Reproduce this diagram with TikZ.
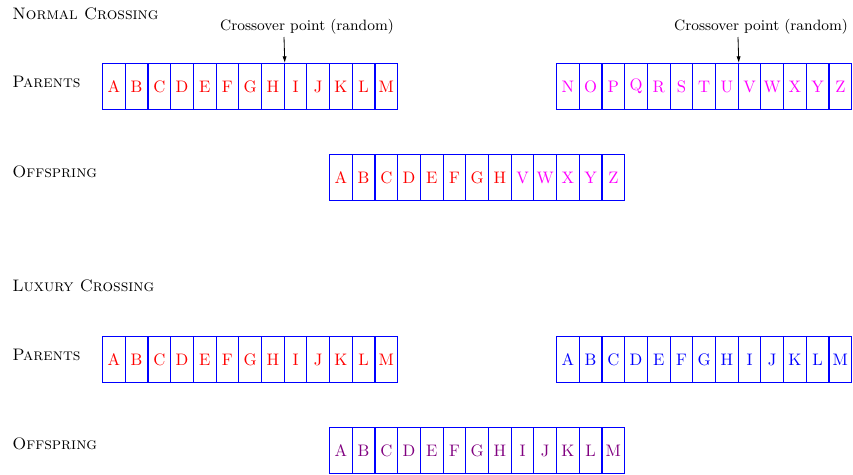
\documentclass[tikz,border=0pt]{standalone}
\usetikzlibrary{arrows.meta}
\definecolor{geneRed}{rgb}{1,0,0}
\definecolor{geneMag}{rgb}{1,0,1}
\definecolor{geneBlue}{rgb}{0,0,1}
\definecolor{genePur}{rgb}{0.5,0,0.5}
\begin{document}
\begin{tikzpicture}[x=0.6pt,y=-0.6pt,
  gene/.style={draw=geneBlue,line width=0.7pt,minimum width=13.62pt,minimum height=27.6pt,inner sep=0pt,anchor=north west,font=\normalsize},
  sectlabel/.style={anchor=west,inner sep=0pt,font=\scshape},
  xlabel/.style={inner sep=0pt,font=\small},
  xarrow/.style={-{Latex[length=4pt,width=2.5pt]},line width=0.5pt}]
\useasboundingbox (0,0) rectangle (853,474);
% labels
\node[sectlabel] (t1) at (12,14) {Normal Crossing};
\node[sectlabel] (pa1) at (12,82) {Parents};
\node[sectlabel] (of1) at (12,172) {Offspring};
\node[sectlabel] (t2) at (12,286) {Luxury Crossing};
\node[sectlabel] (pa2) at (12,355) {Parents};
\node[sectlabel] (of2) at (12,444) {Offspring};
% normal crossing parents
\foreach \l [count=\i from 0] in {A,B,C,D,E,F,G,H,I,J,K,L,M}
  \node[gene,text=geneRed] (na\i) at ({102+22.7*\i},63) {\l};
\foreach \l [count=\i from 0] in {N,O,P,Q,R,S,T,U,V,W,X,Y,Z}
  \node[gene,text=geneMag] (nb\i) at ({556+22.7*\i},63) {\l};
% normal offspring
\foreach \l [count=\i from 0] in {A,B,C,D,E,F,G,H}
  \node[gene,text=geneRed] (no\i) at ({329+22.7*\i},154) {\l};
\foreach \l [count=\i from 8] in {V,W,X,Y,Z}
  \node[gene,text=geneMag] (no\i) at ({329+22.7*\i},154) {\l};
% crossover points
\node[xlabel] (cx1) at (307,27) {Crossover point (random)};
\node[xlabel] (cx2) at (761,27) {Crossover point (random)};
\coordinate (ca1) at (284,37);
\coordinate (ca2) at (738,37);
\draw[xarrow] (ca1) -- (na7.north east);
\draw[xarrow] (ca2) -- (nb7.north east);
% luxury crossing
\foreach \l [count=\i from 0] in {A,B,C,D,E,F,G,H,I,J,K,L,M}
  \node[gene,text=geneRed] (la\i) at ({102+22.7*\i},336) {\l};
\foreach \l [count=\i from 0] in {A,B,C,D,E,F,G,H,I,J,K,L,M}
  \node[gene,text=geneBlue] (lb\i) at ({556+22.7*\i},336) {\l};
\foreach \l [count=\i from 0] in {A,B,C,D,E,F,G,H,I,J,K,L,M}
  \node[gene,text=genePur] (lo\i) at ({329+22.7*\i},427) {\l};
\end{tikzpicture}
\end{document}
